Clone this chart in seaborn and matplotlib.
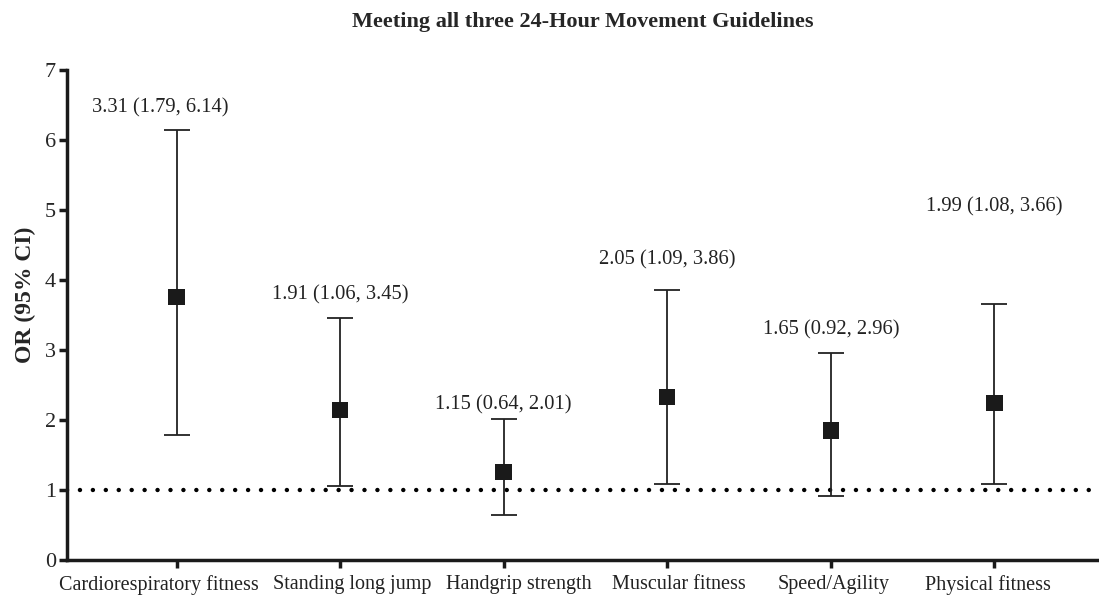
import numpy as np
import pandas as pd
import seaborn as sns
import matplotlib
matplotlib.use("Agg")
import matplotlib.pyplot as plt
from matplotlib.transforms import ScaledTranslation

# data
categories = ["Cardiorespiratory fitness", "Standing long jump", "Handgrip strength",
              "Muscular fitness", "Speed/Agility", "Physical fitness"]
point_est = [3.76, 2.14, 1.26, 2.33, 1.85, 2.24]
ci_low = [1.79, 1.06, 0.64, 1.09, 0.92, 1.08]
ci_high = [6.14, 3.45, 2.01, 3.86, 2.96, 3.66]
labels = ["3.31 (1.79, 6.14)", "1.91 (1.06, 3.45)", "1.15 (0.64, 2.01)",
          "2.05 (1.09, 3.86)", "1.65 (0.92, 2.96)", "1.99 (1.08, 3.66)"]
label_y = [6.46, 3.79, 2.21, 4.29, 3.29, 5.04]
label_dx = [-0.1, 0, 0, 0, 0, 0]
# horizontal nudge of the category names, in pixels
tick_shift = [-18, 12, 15, 12, 3, -6]

df = pd.DataFrame({"cat": categories, "or": point_est, "lo": ci_low, "hi": ci_high})
df["x"] = np.arange(len(df))

sns.set_style("ticks")
plt.rcParams["font.family"] = ["Liberation Serif", "DejaVu Serif"]

fig = plt.figure(figsize=(10.99, 5.96), dpi=100)
ax = fig.add_axes([0.061, 0.0604, 0.939, 0.8222])

# reference line at OR = 1
ax.axhline(1, color="black", lw=3.2, linestyle=(0, (0.01, 2.9)),
           dash_capstyle="round", zorder=1)

ax.errorbar(df["x"], df["or"], yerr=[df["or"] - df["lo"], df["hi"] - df["or"]],
            fmt="none", ecolor="#222222", elinewidth=1.3, capsize=9.5,
            capthick=1.3, zorder=2)
sns.scatterplot(data=df, x="x", y="or", marker="s", s=140, color="#1a1a1a",
                edgecolor="none", ax=ax, zorder=3)

for i, t in enumerate(labels):
    ax.text(df["x"][i] + label_dx[i], label_y[i], t, ha="center", va="center",
            fontsize=14.8, color="#222222")

ax.set_xlim(-0.67, 5.64)
ax.set_ylim(0, 7)
ax.set_xticks(df["x"])
ax.set_xticklabels([])
# category names drawn under the ticks, slightly nudged like the original
for i, name in enumerate(categories):
    tr = ax.get_xaxis_transform() + ScaledTranslation(tick_shift[i] / 100, -15 / 100,
                                                      fig.dpi_scale_trans)
    ax.text(df["x"][i], 0, name, transform=tr, ha="center", va="top",
            fontsize=14.5, color="#222222")
ax.set_yticks(range(0, 8))
ax.tick_params(axis="y", labelsize=16, width=2.5, length=6, color="#1a1a1a", pad=2)
ax.tick_params(axis="x", width=2.5, length=6, color="#1a1a1a", pad=2)
ax.set_xlabel("")
ax.set_ylabel("OR (95% CI)", fontsize=17, fontweight="bold")
ax.yaxis.set_label_coords(-0.030, 0.541)
for s in ["left", "bottom"]:
    ax.spines[s].set_linewidth(2.5)
    ax.spines[s].set_color("#1a1a1a")
sns.despine(ax=ax)
ax.set_title("Meeting all three 24-Hour Movement Guidelines", fontsize=16,
             fontweight="bold", pad=31)

fig.savefig("out.png", dpi=100)
